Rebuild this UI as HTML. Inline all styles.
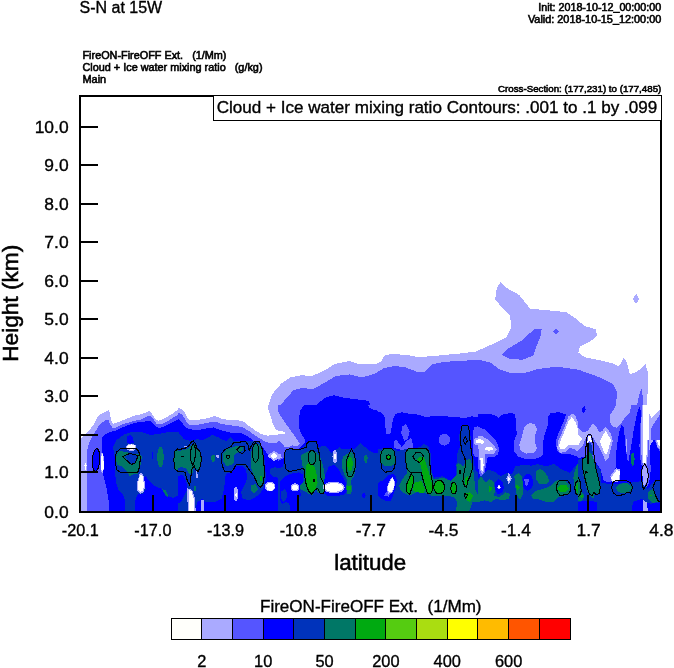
<!DOCTYPE html>
<html lang="en"><head><meta charset="utf-8"><title>S-N at 15W</title>
<style>
html,body{margin:0;padding:0;background:#fff;}
body{width:674px;height:668px;overflow:hidden;}
svg{display:block;}
text{font-family:"Liberation Sans",sans-serif;fill:#000;}
.s{stroke:#000;stroke-width:0.35px;}
.b{stroke:#000;stroke-width:0.55px;}
</style></head><body>
<svg width="674" height="668" viewBox="0 0 674 668">
<rect x="0" y="0" width="674" height="668" fill="#fff"/>
<defs><clipPath id="pc"><rect x="80" y="96" width="581" height="416"/></clipPath></defs>
<g clip-path="url(#pc)" shape-rendering="crispEdges">
<svg x="250" y="270" width="210" height="135" viewBox="0.00 0.00 674.00 433.27" preserveAspectRatio="none">
<polygon fill="#aaaaff" points="78,514 60,470 57,440 70,400 100,365 130,345 165,338 200,340 240,322 270,302 320,292 340,300 400,303 420,295 430,275 450,270 500,272 540,280 600,275 674,268 674,514"/>
<polygon fill="#5555ff" points="130,514 105,480 88,450 105,425 140,385 170,378 200,383 240,362 275,340 320,335 360,345 400,333 430,315 465,308 500,313 540,328 560,326 585,303 620,295 674,292 674,514"/>
<polygon fill="#0000ff" points="160,514 158,470 170,440 185,435 200,445 240,410 270,402 300,410 380,420 385,430 375,445 415,455 430,470 435,514"/>
<polygon fill="#0000ff" points="452,514 455,490 465,470 485,458 520,462 560,470 620,468 674,465 674,514"/>
</svg>
<svg x="460" y="270" width="210" height="135" viewBox="0.00 0.00 674.00 433.27" preserveAspectRatio="none">
<polygon fill="#aaaaff" points="0,268 50,262 100,240 150,215 165,185 160,145 130,115 113,95 118,60 130,38 145,55 190,80 210,105 225,125 270,128 340,135 370,155 400,180 435,190 440,210 420,228 385,245 380,265 400,280 450,290 490,300 510,310 525,283 535,295 545,335 560,330 580,318 595,300 603,330 603,380 600,430 598,514 0,514"/>
<polygon fill="#aaaaff" points="565,76 575,92 565,110 555,92"/>
<polygon fill="#5555ff" points="0,292 60,288 100,298 125,318 160,330 210,330 250,318 310,310 380,320 450,345 490,365 505,395 500,430 490,460 480,490 490,505 500,514 0,514"/>
<polygon fill="#5555ff" points="135,272 150,255 200,225 240,188 262,190 258,215 245,245 235,275 200,288 160,285"/>
<polygon fill="#5555ff" points="308,188 318,197 308,206 298,197"/>
<polygon fill="#5555ff" points="560,514 565,450 575,400 583,380 588,420 590,514"/>
</svg>
<svg x="78" y="405" width="100" height="108" viewBox="0.00 0.00 618.50 668.00" preserveAspectRatio="none">
<polygon fill="#aaaaff" points="11.0,207.7 41.3,189.3 73.4,152.6 100.9,115.9 119.3,74.6 142.2,56.3 174.4,37.9 192.7,31.5 200.0,60.8 203.7,97.5 220.2,115.9 256.9,102.1 302.8,83.8 348.7,65.4 394.6,56.3 440.5,37.9 458.8,56.3 477.2,88.4 500.1,97.5 541.4,79.2 587.3,51.7 618.5,28.7 618.5,703.2 11.0,703.2"/>
<polygon fill="#5555ff" points="55.1,703.2 55.1,336.1 59.6,262.7 73.4,226.0 91.8,189.3 114.7,152.6 137.6,115.9 174.4,93.0 188.1,88.4 197.3,115.9 215.6,143.4 238.6,138.8 275.3,120.5 302.8,111.3 348.7,97.5 394.6,88.4 431.3,70.0 449.7,65.4 468.0,88.4 486.4,115.9 509.3,120.5 550.6,102.1 587.3,79.2 618.5,60.8 618.5,703.2"/>
<polygon fill="#5555ff" points="84.1,668.0 84.1,606.1 75.5,550.5 61.9,479.4 55.7,433.0 61.9,395.9 68.0,352.6 61.9,309.3 59.4,262.9 105.1,216.5 259.8,216.5 259.8,668.0"/>
<polygon fill="#0000ff" points="201.9,166.4 238.6,157.2 275.3,138.8 321.2,120.5 367.1,106.7 412.9,102.1 440.5,97.5 458.8,106.7 477.2,129.7 500.1,143.4 532.2,134.3 568.9,115.9 618.5,88.4 618.5,703.2 192.7,703.2"/>
<polygon fill="#0000ff" points="192.4,668.0 189.3,590.1 178.1,523.3 164.5,468.2 153.4,423.7 150.3,395.9 148.4,340.2 146.6,244.3 151.5,198.5 169.5,180.0 201.6,166.4 321.6,160.8 321.6,668.0"/>
<ellipse fill="#0000ff" cx="112" cy="340" rx="22" ry="68" transform="rotate(4 112 340)"/>
<polygon fill="#0033bb" points="290,668 292,606 284,563 250,523 234,479 231,424 225,300 215,260 240,215 290,180 330,168 400,170 450,185 520,175 570,165 619,170 619,560 590,575 540,560 520,520 470,500 440,470 420,440 400,450 420,520 400,550 370,550 350,600 350,668"/>
<polygon fill="#0000ff" points="305,195 325,185 340,200 345,235 320,240 300,230"/>
<polygon fill="#0000ff" points="455,290 465,290 465,335 455,335"/>
<polygon fill="#007766" points="240,300 255,285 300,290 330,300 380,305 395,320 390,360 380,400 370,425 340,430 320,440 310,420 290,400 270,380 245,370 235,340"/>
<polygon fill="#0033bb" points="285,320 330,300 370,310 355,355 330,365"/>
<ellipse fill="#007766" cx="510" cy="322" rx="20" ry="63"/>
<polygon fill="#007766" points="619,275 600,290 592,340 600,390 619,410"/>
<polygon fill="#007766" points="520,520 545,530 560,570 545,565"/>
<ellipse fill="#aaaaff" cx="330" cy="262" rx="32" ry="22"/>
<ellipse fill="#ffffff" cx="330" cy="260" rx="26" ry="16"/>
<polygon fill="#aaaaff" points="383,420 402,425 415,490 410,535 385,550 365,525 365,480"/>
<polygon fill="#ffffff" points="385,430 398,432 408,490 403,528 385,540 372,520 372,480"/>
<polygon fill="#aaaaff" points="147,285 160,320 163,390 150,425 140,400 140,330"/>
<polygon fill="#ffffff" points="148,295 157,320 159,390 150,415 144,400 144,330"/>
<polygon fill="#ffffff" points="38,375 46,355 54,375 50,378 50,400 42,400 42,378"/>
</svg>
<svg x="178" y="405" width="100" height="108" viewBox="0.00 0.00 618.50 668.00" preserveAspectRatio="none">
<rect fill="#aaaaff" x="0" y="0" width="619" height="668"/>
<polygon fill="#ffffff" points="0,20 23,24 41,47 55,75 73,93 110,93 156,87 197,77 229,68 266,84 312,93 367,93 404,102 440,130 477,157 514,180 551,189 587,188 619,182 619,160 601,148 587,116 569,61 555,15 551,-31 0,-31"/>
<polygon fill="#5555ff" points="0,47 23,56 41,84 55,107 73,123 110,125 156,116 197,107 229,102 266,116 312,125 367,130 404,139 440,162 477,189 514,212 551,231 587,235 619,231 619,703 0,703"/>
<polygon fill="#0000ff" points="0,88 18,98 37,125 55,143 92,153 138,153 184,143 220,139 257,153 303,166 349,176 395,176 431,194 468,221 505,244 532,272 551,299 569,318 597,332 619,336 619,703 0,703"/>
<polygon fill="#0033bb" points="0,166 18,189 37,212 73,221 119,212 156,217 184,203 211,185 248,199 275,217 303,221 326,199 344,221 385,221 440,221 496,224 514,244 528,281 535,336 540,400 545,460 530,510 510,545 480,570 440,590 400,580 390,540 410,500 430,450 420,400 400,375 350,375 330,420 295,425 290,480 280,540 270,580 230,600 170,600 150,580 120,600 100,668 0,668"/>
<polygon fill="#0000ff" points="0,440 30,430 50,470 60,520 40,560 20,600 0,610"/>
<polygon fill="#0033bb" points="570,395 600,385 619,390 619,450 590,445 570,425"/>
<polygon fill="#007766" points="0,285 30,280 60,270 80,250 100,235 115,260 135,290 145,330 135,380 120,405 100,380 90,420 70,430 50,390 20,385 0,390"/>
<polygon fill="#007766" points="205,315 225,308 232,330 225,352 208,350"/>
<polygon fill="#007766" points="280,300 300,275 340,260 385,250 405,260 400,285 370,295 345,310 350,340 340,365 300,380 280,350"/>
<polygon fill="#007766" points="470,245 500,240 520,280 530,350 535,430 525,490 505,505 480,460 455,400 450,340 455,280"/>
<polygon fill="#007766" points="450,495 480,490 495,520 470,545 450,530"/>
<polygon fill="#007766" points="98,500 108,498 110,530 100,535"/>
<polygon fill="#00aa11" points="505,445 518,435 522,460 512,475"/>
<polygon fill="#aaaaff" points="555,315 592,282 619,300 619,335 592,348"/>
<polygon fill="#ffffff" points="570,315 592,295 615,315 592,335"/>
<ellipse fill="#aaaaff" cx="570" cy="505" rx="33" ry="30"/>
<polygon fill="#ffffff" points="545,500 565,480 590,490 598,510 580,530 555,528"/>
<polygon fill="#aaaaff" points="58,515 88,525 105,580 110,668 62,668 58,580"/>
<polygon fill="#ffffff" points="66,525 84,535 98,585 102,668 72,668 67,585"/>
<polygon fill="#aaaaff" points="140,590 158,585 162,668 140,668"/>
<ellipse fill="#aaaaff" cx="358" cy="550" rx="14" ry="45"/>
<ellipse fill="#ffffff" cx="360" cy="555" rx="5" ry="14"/>
<ellipse fill="#aaaaff" cx="245" cy="318" rx="9" ry="9"/>
<polygon fill="#aaaaff" points="38,258 50,248 60,260 50,265"/>
<polygon fill="#aaaaff" points="110,410 120,410 122,450 112,452"/>
</svg>
<svg x="278" y="405" width="100" height="108" viewBox="0.00 0.00 618.50 668.00" preserveAspectRatio="none">
<rect fill="#0000ff" x="0" y="0" width="619" height="668"/>
<polygon fill="#5555ff" points="0,0 160,0 140,30 132,70 133,150 150,190 170,215 165,235 140,262 120,275 75,268 45,278 35,330 0,345"/>
<polygon fill="#5555ff" points="555,0 619,0 619,35 590,30 565,15"/>
<polygon fill="#aaaaff" points="0,40 30,90 77,155 110,200 135,240 120,255 90,250 60,262 40,258 20,230 0,222"/>
<polygon fill="#aaaaff" points="0,300 18,305 22,325 0,338"/>
<polygon fill="#ffffff" points="0,160 40,165 48,173 40,182 0,182"/>
<polygon fill="#0033bb" points="0,390 30,385 40,340 45,280 75,270 120,277 150,270 175,240 185,225 240,225 250,260 290,250 330,295 380,262 400,275 440,270 470,275 510,232 540,262 580,292 619,300 619,668 0,668"/>
<polygon fill="#0000ff" points="12.4,471.0 38.1,445.3 76.6,426.1 128.0,416.4 156.9,432.5 150.5,490.3 137.6,522.4 140.8,560.9 121.6,573.8 118.3,663.7 76.6,663.7 70.2,612.3 50.9,599.5 25.2,612.3 12.4,586.6"/>
<polygon fill="#0033bb" points="18.8,535.2 44.5,519.2 57.3,548.1 50.9,586.6 31.6,599.5 18.8,573.8"/>
<polygon fill="#0000ff" points="269.3,471.0 288.5,438.9 314.2,381.1 346.3,368.3 372.0,393.9 397.7,438.9 423.4,490.3 429.8,522.4 410.6,554.5 359.2,564.1 301.4,560.9 275.7,535.2"/>
<polygon fill="#0000ff" points="530,540 545,560 530,580 518,560"/>
<polygon fill="#007766" points="140,310 180,290 200,280 235,290 260,320 280,380 290,440 285,480 295,520 280,555 250,545 235,520 215,555 190,550 160,530 135,520 140,490 165,470 160,420 150,370"/>
<polygon fill="#007766" points="400,320 430,300 455,290 475,320 485,380 470,440 450,470 460,520 450,550 430,550 420,510 430,470 410,430 395,380"/>
<polygon fill="#007766" points="532,315 550,308 555,330 545,365 535,345"/>
<polygon fill="#00aa11" points="175,370 200,355 225,380 240,430 245,480 235,515 215,545 195,545 180,500 170,430"/>
<ellipse fill="#00aa11" cx="445" cy="365" rx="17" ry="45"/>
<ellipse fill="#00aa11" cx="440" cy="513" rx="14" ry="14"/>
<ellipse fill="#aaaaff" cx="345" cy="510" rx="68" ry="36"/>
<ellipse fill="#ffffff" cx="345" cy="510" rx="58" ry="27"/>
<ellipse fill="#aaaaff" cx="105" cy="510" rx="25" ry="25"/>
<ellipse fill="#ffffff" cx="105" cy="510" rx="18" ry="18"/>
<ellipse fill="#aaaaff" cx="352" cy="320" rx="15" ry="42"/>
<ellipse fill="#ffffff" cx="352" cy="320" rx="6" ry="18"/>
</svg>
<svg x="378" y="405" width="100" height="108" viewBox="0.00 0.00 618.50 668.00" preserveAspectRatio="none">
<rect fill="#0000ff" x="0" y="0" width="619" height="668"/>
<polygon fill="#5555ff" points="0,0 619,0 619,75 580,70 540,80 480,75 420,70 360,65 300,75 250,60 200,55 150,45 110,55 95,80 85,130 80,175 50,180 45,130 40,70 20,45 0,40"/>
<polygon fill="#5555ff" points="173,117 196,161 185,211 162,222 143,172 151,133"/>
<polygon fill="#5555ff" points="110,211 146,258 179,222 190,214 204,200 215,239 214,264 151,278 101,267 98,233"/>
<ellipse fill="#5555ff" cx="410" cy="215" rx="36" ry="36"/>
<polygon fill="#5555ff" points="619,130 595,140 585,180 590,240 585,290 600,320 619,325"/>
<ellipse fill="#aaaaff" cx="612" cy="225" rx="18" ry="22"/>
<ellipse fill="#ffffff" cx="614" cy="225" rx="8" ry="11"/>
<polygon fill="#0033bb" points="0,275 30,268 100,270 120,285 160,275 200,268 260,262 280,240 310,255 325,300 330,400 345,450 400,440 450,470 480,440 485,370 490,300 510,250 500,200 510,150 525,125 555,125 570,160 575,230 580,290 590,330 600,400 619,420 619,668 0,668"/>
<polygon fill="#007766" points="10,290 35,272 80,270 100,285 108,330 100,370 70,380 35,375 10,340"/>
<polygon fill="#007766" points="170,300 185,275 240,268 300,275 318,300 322,370 330,420 345,460 400,450 450,470 490,430 485,370 500,360 530,380 545,340 570,335 585,380 595,440 600,520 619,560 619,600 585,600 560,668 480,668 490,600 470,570 430,560 380,560 330,560 290,545 240,540 200,560 170,550 140,530 130,500 150,460 180,420 175,380 165,340"/>
<polygon fill="#00aa11" points="240,335 265,318 285,325 295,355 310,400 330,470 340,540 310,550 295,500 280,450 270,400 258,355"/>
<polygon fill="#00aa11" points="200,430 220,440 215,500 195,550 175,530 180,480"/>
<polygon fill="#00aa11" points="225,480 270,470 290,520 285,545 240,540 215,530"/>
<ellipse fill="#00aa11" cx="378" cy="508" rx="32" ry="40"/>
<ellipse fill="#00aa11" cx="468" cy="515" rx="16" ry="33"/>
<polygon fill="#00aa11" points="540,450 555,440 560,480 550,505 535,490"/>
<polygon fill="#00aa11" points="540,545 570,540 590,560 570,600 550,590"/>
<polygon fill="#0000ff" points="64.8,434.7 94.9,425.7 112.9,440.7 115.9,476.8 106.9,518.9 91.9,561.0 79.8,591.1 52.8,594.1 16.7,579.1 -7.4,549.0 -13.4,512.9 4.7,476.8 34.7,464.8"/>
<polygon fill="#5555ff" points="34.7,561.0 58.8,531.0 85.9,540.0 64.8,567.1"/>
<polygon fill="#aaaaff" points="90.1,443.7 104.5,476.8 100.9,515.9 84.0,546.0 64.8,547.8 54.0,518.9 61.8,485.8 78.0,455.8"/>
<polygon fill="#ffffff" points="91.9,452.8 99.7,476.8 96.7,512.9 82.8,538.2 69.0,540.6 60.6,518.9 66.6,488.9 80.4,461.8"/>
<ellipse fill="#00aa11" cx="65" cy="322" rx="9" ry="9"/>
</svg>
<svg x="478" y="405" width="100" height="108" viewBox="0.00 0.00 618.50 668.00" preserveAspectRatio="none">
<rect fill="#0000ff" x="0" y="0" width="619" height="668"/>
<polygon fill="#5555ff" points="0,0 619,0 619,320 560,300 520,305 490,285 480,230 500,170 530,100 545,60 500,45 450,50 435,70 430,130 410,190 400,250 400,310 370,330 300,335 250,320 225,290 220,230 240,180 235,120 230,55 200,50 150,60 130,80 100,60 50,55 0,55"/>
<polygon fill="#aaaaff" points="290,130 320,112 350,118 365,150 350,200 355,240 365,270 345,295 300,300 265,285 255,245 270,200 280,160"/>
<polygon fill="#aaaaff" points="580,55 600,60 619,110 619,290 600,275 570,265 540,290 510,295 490,270 495,225 520,170 545,110 560,70"/>
<polygon fill="#ffffff" points="580,75 600,100 619,150 619,250 590,245 560,250 530,275 510,275 500,250 515,210 540,150 560,100"/>
<polygon fill="#5555ff" points="0,135 40,150 80,185 110,220 130,265 125,305 100,320 60,320 50,370 40,420 25,450 10,430 0,380"/>
<polygon fill="#aaaaff" points="0,190 30,195 70,220 100,250 115,275 100,300 60,305 45,300 45,350 35,410 25,430 15,410 10,350 5,280 0,260"/>
<polygon fill="#ffffff" points="0,210 25,215 40,230 30,240 0,235"/>
<ellipse fill="#ffffff" cx="68" cy="270" rx="25" ry="12"/>
<polygon fill="#ffffff" points="15,330 30,330 35,370 28,410 18,400"/>
<polygon fill="#0033bb" points="0,455 30,430 60,400 100,410 140,440 180,420 210,430 230,380 280,370 330,375 370,365 420,380 470,365 520,400 570,420 600,380 619,360 619,668 0,668"/>
<polygon fill="#0000ff" points="105,480 125,460 150,470 160,510 150,545 120,550 105,520"/>
<ellipse fill="#0000ff" cx="308" cy="478" rx="33" ry="52"/>
<polygon fill="#5555ff" points="285,458 318,458 305,500 295,500"/>
<polygon fill="#007766" points="0,470 20,440 40,470 50,480 70,460 95,470 105,520 100,560 130,570 170,540 200,550 190,580 150,590 110,580 80,600 40,590 0,600"/>
<polygon fill="#007766" points="225,440 250,420 270,440 280,500 275,560 260,585 240,560 230,500"/>
<polygon fill="#007766" points="360,410 385,395 410,410 430,440 440,470 420,490 380,490 360,460"/>
<polygon fill="#007766" points="330,560 360,530 400,520 450,500 480,470 500,460 540,470 575,500 570,550 540,560 500,570 470,600 420,600 380,585 340,580"/>
<polygon fill="#007766" points="619,360 600,400 590,450 595,520 619,560"/>
<polygon fill="#00aa11" points="65,495 90,515 70,540"/>
<polygon fill="#00aa11" points="235,490 262,508 240,528"/>
<polygon fill="#00aa11" points="490,515 510,495 545,495 562,515 545,535 510,538"/>
<polygon fill="#00aa11" points="619,480 605,500 605,530 619,545"/>
<polygon fill="#aaaaff" points="190,420 208,455 190,490 175,455"/>
<polygon fill="#ffffff" points="190,440 198,456 190,472 183,456"/>
<ellipse fill="#aaaaff" cx="130" cy="508" rx="10" ry="14"/>
<ellipse fill="#ffffff" cx="130" cy="508" rx="4" ry="6"/>
</svg>
<svg x="578" y="405" width="96" height="108" viewBox="0.00 0.00 593.80 668.00" preserveAspectRatio="none">
<rect fill="#5555ff" x="0" y="0" width="594" height="668"/>
<polygon fill="#0000ff" points="0,330 40,320 100,340 140,400 160,470 200,480 230,430 235,330 240,250 255,170 270,120 285,140 290,220 300,300 310,360 330,250 345,150 365,50 380,10 390,40 385,150 380,250 385,330 395,380 400,440 420,520 440,480 450,400 445,300 450,220 470,200 490,260 513,300 520,668 0,668"/>
<polygon fill="#0000ff" points="20,30 40,8 48,30 35,50"/>
<polygon fill="#aaaaff" points="235,0 330,0 320,50 290,80 270,110 240,140 210,130 195,95 200,60 220,30"/>
<polygon fill="#aaaaff" points="0,140 30,170 60,160 90,115 110,130 130,170 150,160 170,135 200,170 215,220 200,280 190,330 170,345 150,300 130,260 110,230 95,200 70,180 50,200 30,250 0,280"/>
<polygon fill="#aaaaff" points="437,216 437,116 442,52 455,79 474,61 492,42 506,28 520,20 520,280 490,260 480,200 460,230 445,250 440,300"/>
<polygon fill="#aaaaff" points="395,0 445,0 440,100 435,200 432,300 425,370 400,370 392,300 390,200 392,100"/>
<polygon fill="#aaaaff" points="400,580 425,570 432,668 402,668"/>
<polygon fill="#aaaaff" points="200,440 235,390 262,400 262,470 210,480"/>
<polygon fill="#aaaaff" points="295,210 305,210 305,290 295,290"/>
<polygon fill="#ffffff" points="0,180 25,210 0,250"/>
<polygon fill="#ffffff" points="170,160 205,215 180,300 165,300 135,225"/>
<polygon fill="#ffffff" points="205,450 240,400 258,410 255,465 215,475"/>
<polygon fill="#ffffff" points="411,0 435,0 432,100 428,250 420,360 405,360 402,250 406,100"/>
<polygon fill="#ffffff" points="520,150 495,170 485,210 500,250 520,265"/>
<polygon fill="#ffffff" points="405,0 520,0 520,20 506,28 492,42 474,61 455,79 442,52 437,116 437,216 405,216"/>
<polygon fill="#5555ff" points="455,135 469,116 488,89 506,61 520,50 520,216 451,216"/>
<polygon fill="#0033bb" points="140,480 200,490 330,480 400,470 430,520 470,470 520,470 520,600 450,610 420,600 400,580 340,600 330,668 120,668 120,600 60,590 0,600 0,340 30,330 100,345 140,410"/>
<ellipse fill="#007766" cx="338" cy="335" rx="12" ry="40"/>
<polygon fill="#0033bb" points="58,300 55,250 62,235 78,235 88,260 92,315 72,290"/>
<polygon fill="#007766" points="25,335 45,320 58,300 72,290 88,310 95,330 110,400 130,470 138,520 125,550 105,545 95,580 75,560 60,540 45,480 30,420"/>
<polygon fill="#007766" points="0,440 15,470 25,540 40,560 30,590 0,595"/>
<ellipse fill="#00aa11" cx="22" cy="565" rx="8" ry="8"/>
<polygon fill="#007766" points="235,510 255,490 300,480 330,500 335,525 310,540 270,545 245,535"/>
<polygon fill="#007766" points="430,540 460,520 480,560 495,600 460,605 435,580"/>
<ellipse fill="#00aa11" cx="450" cy="560" rx="7" ry="5"/>
<polygon fill="#aaaaff" points="412,372 426,395 432,440 422,485 408,505 400,470 398,410 403,385"/>
<polygon fill="#ffffff" points="62,190 78,190 86,230 70,225 58,235"/>
</svg>
</g>
<g fill="none" stroke="#000" stroke-width="1" clip-path="url(#pc)" shape-rendering="crispEdges">
<svg x="78" y="405" width="100" height="108" viewBox="0.00 0.00 618.50 668.00" preserveAspectRatio="none"><g stroke-width="6.49" stroke-linejoin="round">
<ellipse cx="112" cy="340" rx="23" ry="70" transform="rotate(4 112 340)"/>
<polygon points="240,290 260,272 360,270 375,285 385,320 382,380 370,415 260,415 240,400 230,350 232,310"/>
<polygon points="275,320 320,300 372,312 355,358 330,368"/>
<polyline points="619,270 600,285 592,340 600,395 619,412"/>
</g></svg>
<svg x="178" y="405" width="100" height="108" viewBox="0.00 0.00 618.50 668.00" preserveAspectRatio="none"><g stroke-width="6.49" stroke-linejoin="round">
<polyline points="0,275 40,270 65,255 80,232 95,222 108,240 118,270 135,285 145,330 140,375 125,410 112,405 100,375 85,400 80,440 75,480 70,495 55,460 45,420 30,410 0,412"/>
<polygon points="75,300 85,255 97,240 108,270 105,330 92,375 80,345"/>
<polygon points="22,317 34,317 34,321 22,321"/>
<polygon points="270,300 290,275 330,255 345,230 420,228 435,250 440,280 455,250 470,228 505,228 520,270 530,340 535,430 525,490 510,510 495,495 470,440 440,400 420,370 360,368 345,395 330,415 290,412 275,380 268,340"/>
<ellipse cx="310" cy="320" rx="10" ry="10"/>
<polygon points="365,275 385,255 410,255 415,285 400,300 380,295"/>
<ellipse cx="480" cy="295" rx="20" ry="60"/>
</g></svg>
<svg x="278" y="405" width="100" height="108" viewBox="0.00 0.00 618.50 668.00" preserveAspectRatio="none"><g stroke-width="6.49" stroke-linejoin="round">
<polygon points="45,280 75,270 120,277 150,270 175,260 180,235 195,225 238,225 245,260 258,310 262,380 265,450 285,490 290,520 280,550 262,550 245,515 225,530 210,552 190,535 175,495 165,440 160,390 130,400 100,405 70,412 48,395 40,340 42,300"/>
<ellipse cx="210" cy="325" rx="24" ry="45"/>
<polygon points="220,462 224,462 224,476 220,476"/>
<polygon points="455,272 470,300 482,350 475,400 455,445 435,445 422,400 425,340 440,300"/>
</g></svg>
<svg x="378" y="405" width="100" height="108" viewBox="0.00 0.00 618.50 668.00" preserveAspectRatio="none"><g stroke-width="6.49" stroke-linejoin="round">
<polygon points="35,272 85,270 100,285 108,330 104,385 85,412 45,415 25,395 15,340 20,290"/>
<ellipse cx="65" cy="322" rx="13" ry="13"/>
<polygon points="185,272 300,270 315,290 320,350 325,420 335,470 340,520 325,550 305,545 290,500 275,450 268,415 225,418 200,415 180,395 170,340 172,295"/>
<polygon points="215,320 235,295 265,295 280,315 270,345 255,355 230,340"/>
<polygon points="205,425 222,445 215,500 195,555 175,535 178,490"/>
<ellipse cx="378" cy="508" rx="33" ry="42"/>
<ellipse cx="468" cy="515" rx="17" ry="35"/>
<polygon points="520,128 555,126 565,160 570,230 578,290 585,340 582,400 570,440 555,470 548,510 535,500 525,470 530,430 540,380 538,330 520,290 510,230 512,170"/>
<polygon points="540,195 553,220 540,245 528,220"/>
<polygon points="502,408 510,408 510,422 502,422"/>
<polygon points="535,548 555,555 540,580"/>
</g></svg>
<svg x="478" y="405" width="100" height="108" viewBox="0.00 0.00 618.50 668.00" preserveAspectRatio="none"><g stroke-width="6.49" stroke-linejoin="round">
<polygon points="500,470 555,468 570,490 572,530 555,555 505,558 490,535 485,510 490,485"/>
<polyline points="619,468 605,480 598,510 603,545 619,558"/>
</g></svg>
<svg x="578" y="405" width="96" height="108" viewBox="0.00 0.00 593.80 668.00" preserveAspectRatio="none"><g stroke-width="6.49" stroke-linejoin="round">
<polygon points="25,335 45,322 50,250 55,200 65,182 80,182 92,220 98,300 110,390 128,460 138,510 130,548 112,555 100,540 88,560 70,552 55,500 40,440 28,390"/>
<polygon points="61,240 67,240 67,360 61,360"/>
<polygon points="48,408 58,415 48,422"/>
<polyline points="0,445 12,470 20,530 10,560 0,565"/>
<polygon points="215,480 235,467 300,468 325,480 338,510 325,545 300,540 285,555 240,560 220,545 208,515"/>
<polygon points="412,365 428,390 436,440 425,490 405,525 395,470 393,410 400,380"/>
<polyline points="520,465 480,470 462,510 480,560 500,600 520,595"/>
</g></svg>
</g>
<g stroke="#000" stroke-width="2" fill="none" shape-rendering="crispEdges">
<rect x="80" y="96" width="581" height="416"/>
<line x1="80" y1="472" x2="98" y2="472"/>
<line x1="80" y1="435" x2="98" y2="435"/>
<line x1="80" y1="396" x2="98" y2="396"/>
<line x1="80" y1="358" x2="98" y2="358"/>
<line x1="80" y1="319" x2="98" y2="319"/>
<line x1="80" y1="281" x2="98" y2="281"/>
<line x1="80" y1="242" x2="98" y2="242"/>
<line x1="80" y1="204" x2="98" y2="204"/>
<line x1="80" y1="165" x2="98" y2="165"/>
<line x1="80" y1="127" x2="98" y2="127"/>
<line x1="153" y1="512" x2="153" y2="494.5"/>
<line x1="225" y1="512" x2="225" y2="494.5"/>
<line x1="298" y1="512" x2="298" y2="494.5"/>
<line x1="371" y1="512" x2="371" y2="494.5"/>
<line x1="443" y1="512" x2="443" y2="494.5"/>
<line x1="516" y1="512" x2="516" y2="494.5"/>
<line x1="588" y1="512" x2="588" y2="494.5"/>
</g>
<rect x="213.5" y="95.5" width="448" height="24.5" fill="#fff" stroke="#000" stroke-width="1" shape-rendering="crispEdges"/>
<text class="s" x="216.7" y="113" font-size="16.2" textLength="440.5" lengthAdjust="spacingAndGlyphs">Cloud + Ice water mixing ratio Contours: .001 to .1 by .099</text>
<text class="s" transform="translate(68.6,517.6) scale(1.05,1)" font-size="16.6" text-anchor="end">0.0</text>
<text class="s" transform="translate(68.6,477.6) scale(1.05,1)" font-size="16.6" text-anchor="end">1.0</text>
<text class="s" transform="translate(68.6,440.6) scale(1.05,1)" font-size="16.6" text-anchor="end">2.0</text>
<text class="s" transform="translate(68.6,401.6) scale(1.05,1)" font-size="16.6" text-anchor="end">3.0</text>
<text class="s" transform="translate(68.6,363.6) scale(1.05,1)" font-size="16.6" text-anchor="end">4.0</text>
<text class="s" transform="translate(68.6,324.6) scale(1.05,1)" font-size="16.6" text-anchor="end">5.0</text>
<text class="s" transform="translate(68.6,286.6) scale(1.05,1)" font-size="16.6" text-anchor="end">6.0</text>
<text class="s" transform="translate(68.6,247.6) scale(1.05,1)" font-size="16.6" text-anchor="end">7.0</text>
<text class="s" transform="translate(68.6,209.6) scale(1.05,1)" font-size="16.6" text-anchor="end">8.0</text>
<text class="s" transform="translate(68.6,170.6) scale(1.05,1)" font-size="16.6" text-anchor="end">9.0</text>
<text class="s" transform="translate(68.6,132.6) scale(1.05,1)" font-size="16.6" text-anchor="end">10.0</text>
<text class="s" transform="translate(80.3,535.9) scale(0.98,1)" font-size="16.6" text-anchor="middle">-20.1</text>
<text class="s" transform="translate(152.9,535.9) scale(0.98,1)" font-size="16.6" text-anchor="middle">-17.0</text>
<text class="s" transform="translate(225.6,535.9) scale(0.98,1)" font-size="16.6" text-anchor="middle">-13.9</text>
<text class="s" transform="translate(298.2,535.9) scale(0.98,1)" font-size="16.6" text-anchor="middle">-10.8</text>
<text class="s" transform="translate(370.8,535.9) scale(1.05,1)" font-size="16.6" text-anchor="middle">-7.7</text>
<text class="s" transform="translate(443.4,535.9) scale(1.05,1)" font-size="16.6" text-anchor="middle">-4.5</text>
<text class="s" transform="translate(516.0,535.9) scale(1.05,1)" font-size="16.6" text-anchor="middle">-1.4</text>
<text class="s" transform="translate(588.7,535.9) scale(1.05,1)" font-size="16.6" text-anchor="middle">1.7</text>
<text class="s" transform="translate(661.3,535.9) scale(1.05,1)" font-size="16.6" text-anchor="middle">4.8</text>
<text class="b" x="334.2" y="569.6" font-size="22" textLength="72" lengthAdjust="spacingAndGlyphs">latitude</text>
<text class="b" transform="translate(18.3,361.8) rotate(-90)" font-size="21.4" textLength="117" lengthAdjust="spacingAndGlyphs">Height (km)</text>
<text class="s" x="79.5" y="12.5" font-size="16">S-N at 15W</text>
<text class="b" x="82.5" y="59" font-size="10" textLength="144" lengthAdjust="spacingAndGlyphs" xml:space="preserve">FireON-FireOFF Ext.   (1/Mm)</text>
<text class="b" x="82.5" y="71.3" font-size="10" textLength="180" lengthAdjust="spacingAndGlyphs" xml:space="preserve">Cloud + Ice water mixing ratio   (g/kg)</text>
<text class="b" x="82.5" y="83.4" font-size="10" textLength="23.7" lengthAdjust="spacingAndGlyphs">Main</text>
<text class="b" x="538.2" y="10.8" font-size="10" textLength="123" lengthAdjust="spacingAndGlyphs">Init: 2018-10-12_00:00:00</text>
<text class="b" x="527.9" y="22.7" font-size="10" textLength="133.4" lengthAdjust="spacingAndGlyphs">Valid: 2018-10-15_12:00:00</text>
<text class="b" x="498" y="91.6" font-size="9" textLength="163.3" lengthAdjust="spacingAndGlyphs">Cross-Section: (177,231) to (177,485)</text>
<g stroke="#000" stroke-width="1" shape-rendering="crispEdges">
<rect x="171.20" y="618.5" width="30.68" height="21" fill="#fffffb"/>
<rect x="201.88" y="618.5" width="30.68" height="21" fill="#aaaaff"/>
<rect x="232.55" y="618.5" width="30.68" height="21" fill="#5555ff"/>
<rect x="263.23" y="618.5" width="30.68" height="21" fill="#0000ff"/>
<rect x="293.91" y="618.5" width="30.68" height="21" fill="#0033bb"/>
<rect x="324.58" y="618.5" width="30.68" height="21" fill="#007766"/>
<rect x="355.26" y="618.5" width="30.68" height="21" fill="#00aa11"/>
<rect x="385.94" y="618.5" width="30.68" height="21" fill="#55cc11"/>
<rect x="416.62" y="618.5" width="30.68" height="21" fill="#aadd11"/>
<rect x="447.29" y="618.5" width="30.68" height="21" fill="#ffff00"/>
<rect x="477.97" y="618.5" width="30.68" height="21" fill="#ffbb00"/>
<rect x="508.65" y="618.5" width="30.68" height="21" fill="#ff5500"/>
<rect x="539.32" y="618.5" width="30.68" height="21" fill="#ff0000"/>
</g>
<text class="s" x="260" y="611.8" font-size="16.4" textLength="221.5" lengthAdjust="spacingAndGlyphs" xml:space="preserve">FireON-FireOFF Ext.  (1/Mm)</text>
<text class="s" x="201.9" y="667" font-size="16.4" text-anchor="middle">2</text>
<text class="s" x="263.2" y="667" font-size="16.4" text-anchor="middle">10</text>
<text class="s" x="324.6" y="667" font-size="16.4" text-anchor="middle">50</text>
<text class="s" x="385.9" y="667" font-size="16.4" text-anchor="middle">200</text>
<text class="s" x="447.3" y="667" font-size="16.4" text-anchor="middle">400</text>
<text class="s" x="508.6" y="667" font-size="16.4" text-anchor="middle">600</text>
</svg>
</body></html>
